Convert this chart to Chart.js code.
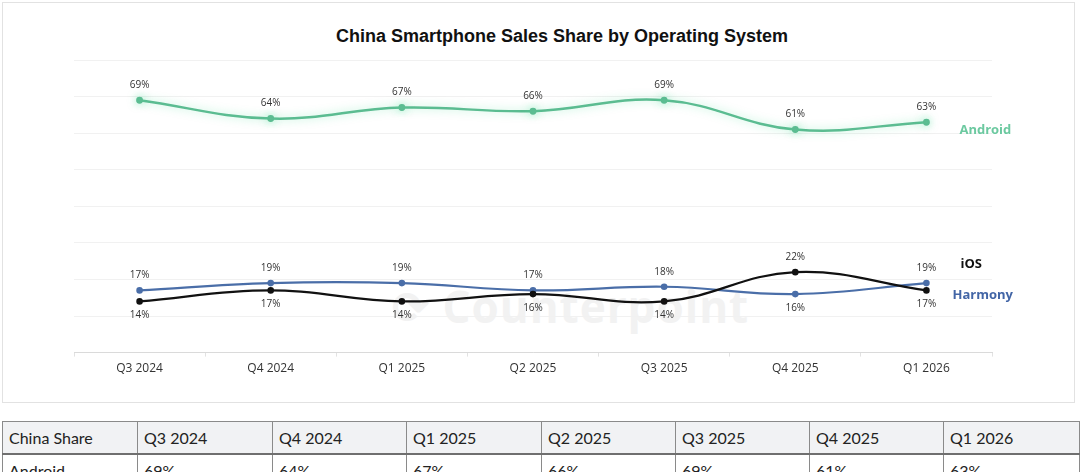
<!DOCTYPE html>
<html>
<head>
<meta charset="utf-8">
<title>China Smartphone Sales Share by Operating System</title>
<script src="https://cdn.jsdelivr.net/npm/chart.js@4.4.1/dist/chart.umd.min.js"></script>
<style>
  html, body { margin: 0; padding: 0; background: #fff; }
  body { width: 1080px; height: 472px; position: relative; overflow: hidden; font-family: 'Open Sans', sans-serif; }
  .card { position: absolute; left: 2px; top: 2px; width: 1073px; height: 401px; border: 1px solid #e2e2e2; box-sizing: border-box; }
  .wrap { position: absolute; left: 0; top: 0; width: 1080px; height: 405px; }
  .title { position: absolute; left: 262px; width: 600px; top: 26px; text-align: center; font: bold 18px 'Liberation Sans', Arial, sans-serif; color: #111; }
  .mark { position: absolute; left: 392px; top: 276px; font: bold 44px 'Open Sans', sans-serif; color: #f2f2f2; letter-spacing: 1px; }
  table { position: absolute; left: 2px; top: 421px; border-collapse: collapse; font-family: Lato, sans-serif; font-size: 16px; color: #222; table-layout: fixed; }
  td { border: 1px solid #8a8a8a; padding: 0 6px; height: 31px; white-space: nowrap; }
  tr.head td { background: #f1f2f4; border-bottom: 2px solid #6f6f6f; }
</style>
</head>
<body>
<div class="card"></div>
<div class="mark">⟳ Counterpoint</div>
<div class="title">China Smartphone Sales Share by Operating System</div>
<div class="wrap"><canvas id="osChart"></canvas></div>
<table id="shareTable"></table>
<script>
// ---- data ----
const quarters = ['Q3 2024', 'Q4 2024', 'Q1 2025', 'Q2 2025', 'Q3 2025', 'Q4 2025', 'Q1 2026'];
const androidShare = [69, 64, 67, 66, 69, 61, 63];
const iosShare = [14, 17, 14, 16, 14, 22, 17];
const harmonyShare = [17, 19, 19, 17, 18, 16, 19];
const yTicks = { min: 0, max: 80, step: 10 };

// table under the chart
(function buildTable() {
  const t = document.getElementById('shareTable');
  const widths = [135, 135, 134, 135, 134, 134, 134, 136];
  const cg = document.createElement('colgroup');
  widths.forEach(w => { const c = document.createElement('col'); c.style.width = w + 'px'; cg.appendChild(c); });
  t.appendChild(cg);
  const rows = [['China Share', ...quarters], ['Android', ...androidShare.map(v => v + '%')]];
  rows.forEach((r, i) => {
    const tr = document.createElement('tr');
    if (i === 0) tr.className = 'head';
    r.forEach(txt => { const td = document.createElement('td'); td.textContent = txt; tr.appendChild(td); });
    t.appendChild(tr);
  });
})();

// value labels above / below each point, plus series name at the line end
const pointLabels = {
  id: 'pointLabels',
  beforeDatasetDraw(chart, args) {
    const ds = chart.data.datasets[args.index];
    if (ds.glow) {
      const ctx = chart.ctx;
      ctx.save();
      ctx.shadowColor = ds.glow;
      ctx.shadowBlur = 9;
    }
  },
  afterDatasetDraw(chart, args) {
    if (chart.data.datasets[args.index].glow) chart.ctx.restore();
  },
  afterDatasetsDraw(chart) {
    const ctx = chart.ctx;
    const sets = chart.data.datasets;
    ctx.save();
    sets.forEach((ds, di) => {
      const meta = chart.getDatasetMeta(di);
      ctx.font = '10px "Open Sans"';
      ctx.fillStyle = '#333';
      ctx.textAlign = 'center';
      ctx.textBaseline = 'middle';
      meta.data.forEach((pt, i) => {
        const peers = sets.filter(s => s.group === ds.group).map(s => s.data[i]);
        const above = ds.data[i] >= Math.max(...peers);
        ctx.fillText(ds.data[i] + '%', pt.x, above ? pt.y - 15 : pt.y + 14);
      });
      const last = meta.data[meta.data.length - 1];
      const e = ds.endLabel;
      ctx.font = 'bold 13px "Open Sans"';
      ctx.fillStyle = e.color;
      ctx.textAlign = 'left';
      ctx.fillText(ds.label, last.x + e.dx, last.y + e.dy);
    });
    ctx.restore();
  },
};

new Chart(document.getElementById('osChart'), {
  type: 'line',
  data: {
    labels: quarters,
    datasets: [
      {
        label: 'Android', data: androidShare, group: 'a',
        borderColor: '#5bbc91', backgroundColor: '#5bbc91', glow: 'rgba(90,225,160,0.5)',
        borderWidth: 2.5, pointRadius: 2.2, tension: 0.4,
        endLabel: { dx: 33, dy: 8, color: '#6cc9a0' },
      },
      {
        label: 'iOS', data: iosShare, group: 'b',
        borderColor: '#111', backgroundColor: '#111',
        borderWidth: 2.2, pointRadius: 2.2, tension: 0.4,
        endLabel: { dx: 34, dy: -26, color: '#111' },
      },
      {
        label: 'Harmony', data: harmonyShare, group: 'b',
        borderColor: '#4a6ea8', backgroundColor: '#4a6ea8',
        borderWidth: 2.2, pointRadius: 2.2, tension: 0.4,
        endLabel: { dx: 26, dy: 12, color: '#4265a6' },
      },
    ],
  },
  options: {
    responsive: true,
    maintainAspectRatio: false,
    animation: false,
    layout: { padding: { left: 74, right: 88, top: 60, bottom: 24 } },
    plugins: {
      legend: { display: false },
      tooltip: { enabled: false },
      title: { display: false },
    },
    scales: {
      x: {
        offset: true,
        grid: { offset: true, drawOnChartArea: false, drawTicks: true, tickLength: 4, color: '#e2e2e2' },
        border: { color: '#dadada' },
        ticks: { color: '#333', font: { family: '"Open Sans"', size: 12 }, padding: 5 },
      },
      y: {
        min: yTicks.min, max: yTicks.max,
        ticks: { display: false, stepSize: yTicks.step },
        grid: { color: '#f1f1f1', drawTicks: false },
        border: { display: false },
      },
    },
  },
  plugins: [pointLabels],
});
</script>
</body>
</html>
